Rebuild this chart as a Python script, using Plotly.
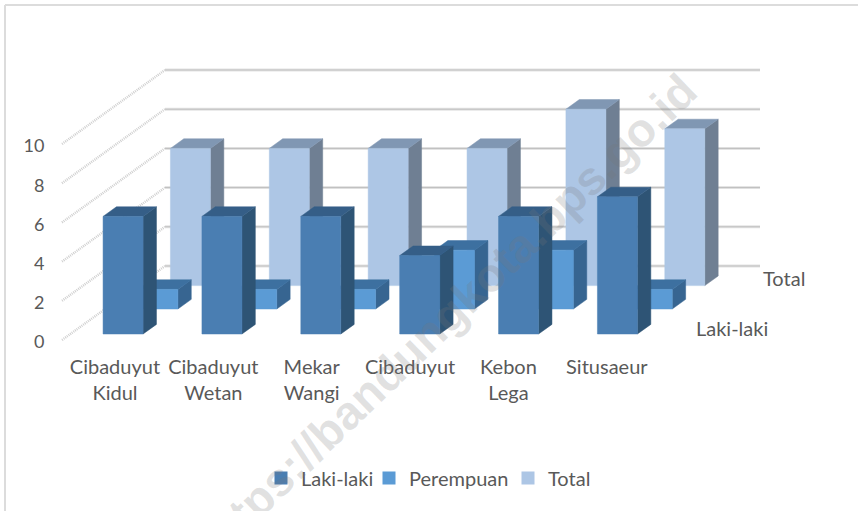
import plotly.graph_objects as go

categories = ["Cibaduyut Kidul", "Cibaduyut Wetan", "Mekar Wangi", "Cibaduyut", "Kebon Lega", "Situsaeur"]
tick_labels = ["Cibaduyut<br>Kidul", "Cibaduyut<br>Wetan", "Mekar<br>Wangi", "Cibaduyut", "Kebon<br>Lega", "Situsaeur"]
laki_laki = [6, 6, 6, 4, 6, 7]
perempuan = [1, 1, 1, 3, 3, 1]
total = [7, 7, 7, 7, 9, 8]
value_ticks = [0, 2, 4, 6, 8, 10]

W, H = 858, 511
L, B = 50, 347
PX_X = 99.17      # pixels per category
PX_Y = 19.6       # pixels per value unit
ORIGIN_X, ORIGIN_Y = 62, 340
DX = 103 / PX_X   # full floor depth in category units
DY = 74 / PX_Y    # full floor depth in value units
BAR_W = 40 / PX_X
BAR_D = 0.13
BAR_OFF = 0.33
BAR_STEP = 0.997
N = len(categories)


def proj(cat, depth, value):
    return cat + depth * DX, value + depth * DY


def polys(values, depth):
    front, top, side = ([], []), ([], []), ([], [])
    for i, v in enumerate(values):
        a = i * BAR_STEP + BAR_OFF
        b = a + BAR_W
        d2 = depth + BAR_D
        faces = [
            (front, [(a, depth, 0), (b, depth, 0), (b, depth, v), (a, depth, v)]),
            (top, [(a, depth, v), (b, depth, v), (b, d2, v), (a, d2, v)]),
            (side, [(b, depth, 0), (b, d2, 0), (b, d2, v), (b, depth, v)]),
        ]
        for target, pts in faces:
            for p in pts + pts[:1]:
                x, y = proj(*p)
                target[0].append(x)
                target[1].append(y)
            target[0].append(None)
            target[1].append(None)
    return front, top, side


fig = go.Figure()

# walls
for v in value_ticks:
    x0, y0 = proj(0, 0, v)
    x1, y1 = proj(0, 1, v)
    x2, y2 = proj(N, 1, v)
    fig.add_trace(go.Scatter(x=[x0, x1], y=[y0, y1], mode="lines", showlegend=False, hoverinfo="skip",
                             line=dict(color="#cfcfcf", width=2.5, dash="1px 1px")))
    fig.add_trace(go.Scatter(x=[x1, x2], y=[y1, y2], mode="lines", showlegend=False, hoverinfo="skip",
                             line=dict(color="#e4e4e4", width=3)))
    fig.add_trace(go.Scatter(x=[x1, x2], y=[y1, y2], mode="lines", showlegend=False, hoverinfo="skip",
                             line=dict(color="#bdbdbd", width=1)))

series = [
    ("Total", total, 0.735, "#ADC6E5", "#8097B3", "#6F7F93"),
    ("Perempuan", perempuan, 0.419, "#5B9BD5", "#3D70A0", "#376591"),
    ("Laki-laki", laki_laki, 0.081, "#4A7EB2", "#355E87", "#2E5475"),
]

for name, vals, depth, c_front, c_top, c_side in series:
    front, top, side = polys(vals, depth)
    for pts, col in ((side, c_side), (top, c_top), (front, c_front)):
        fig.add_trace(go.Scatter(x=pts[0], y=pts[1], mode="lines", fill="toself", fillcolor=col,
                                 line=dict(color=col, width=0.5), showlegend=False, hoverinfo="skip"))

legend_ids = {"Laki-laki": "legend", "Perempuan": "legend2", "Total": "legend3"}
for name, vals, depth, c_front, c_top, c_side in reversed(series):
    fig.add_trace(go.Scatter(x=[None], y=[None], mode="markers", name=name, legend=legend_ids[name],
                             marker=dict(symbol="square", size=13, color=c_front)))


def pxx(p):
    return (p - L) / (W - L)


def pxy(p):
    return 1 - p / H


annotations = []
for name, vals, depth, c_front, c_top, c_side in series:
    if name == "Perempuan":
        continue
    annotations.append(dict(x=N + depth * DX + 0.29, y=depth * DY + 0.3 + depth * 0.13, xref="x", yref="y", text=name,
                            showarrow=False, xanchor="left", font=dict(family="Lato", size=20, color="#595959")))
annotations.append(dict(x=pxx(446), y=pxy(316), xref="paper", yref="paper",
                        text="<b>https://bandungkota.bps.go.id</b>", showarrow=False, textangle=-44,
                        font=dict(family="Liberation Sans", size=47, color="rgba(120,120,120,0.22)")))


def legend_at(px_left):
    return dict(orientation="h", x=pxx(px_left), y=pxy(478), xanchor="left", yanchor="middle",
                font=dict(family="Lato", size=20, color="#595959"), bgcolor="rgba(0,0,0,0)")


fig.update_layout(
    width=W, height=H, autosize=False,
    margin=dict(l=L, r=0, t=0, b=0, pad=0, autoexpand=False),
    paper_bgcolor="white", plot_bgcolor="white",
    font=dict(family="Lato", size=18, color="#595959"),
    xaxis=dict(range=[(L - ORIGIN_X) / PX_X, (W - ORIGIN_X) / PX_X], showgrid=False, zeroline=False, showline=False,
               tickmode="array", tickvals=[i * 0.992 + 0.534 for i in range(N)], ticktext=tick_labels,
               ticks="outside", ticklen=2, tickcolor="rgba(0,0,0,0)", tickfont=dict(family="Lato", size=20, color="#595959"),
               anchor="y", fixedrange=True),
    yaxis=dict(domain=[(H - B) / H, 1], range=[(ORIGIN_Y - B) / PX_Y, ORIGIN_Y / PX_Y], showgrid=False, zeroline=False,
               showline=False, tickmode="array", tickvals=value_ticks, ticks="outside", ticklen=1,
               tickcolor="rgba(0,0,0,0)", ticklabelshift=2,
               tickfont=dict(family="Lato", size=18, color="#595959"), fixedrange=True),
    legend=legend_at(261),
    legend2=legend_at(369),
    legend3=legend_at(508),
    annotations=annotations,
    shapes=[
        dict(type="line", xref="paper", yref="paper", x0=pxx(5), x1=pxx(5), y0=pxy(511), y1=pxy(5),
             line=dict(color="#dcdcdc", width=2), layer="above"),
        dict(type="line", xref="paper", yref="paper", x0=pxx(5), x1=pxx(858), y0=pxy(5), y1=pxy(5),
             line=dict(color="#dcdcdc", width=2), layer="above"),
    ],
)

fig.write_html("out.html", config={"displayModeBar": False},
               post_script="document.body.style.margin='0';document.documentElement.style.overflow='hidden';")
